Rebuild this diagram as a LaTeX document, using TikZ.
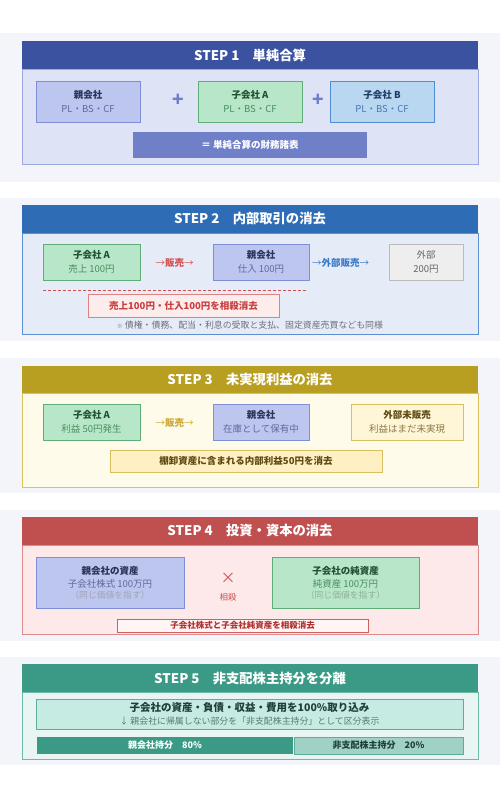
\documentclass[tikz,border=0pt]{standalone}
\usepackage{fontspec}
\setmainfont{Noto Sans CJK JP}
\usepackage{tikz}
\usetikzlibrary{calc}

\definecolor{bandgray}{HTML}{F3F5FA}
\definecolor{hOne}{HTML}{3B52A0}
\definecolor{bOne}{HTML}{DEE3F5}
\definecolor{lOne}{HTML}{9AA8E0}
\definecolor{hTwo}{HTML}{2E6DB5}
\definecolor{bTwo}{HTML}{E6ECF7}
\definecolor{lTwo}{HTML}{5B8FD2}
\definecolor{hThree}{HTML}{B89F22}
\definecolor{bThree}{HTML}{FFFBEA}
\definecolor{lThree}{HTML}{D9C35A}
\definecolor{hFour}{HTML}{C05050}
\definecolor{bFour}{HTML}{FDE9E9}
\definecolor{lFour}{HTML}{DD8A8A}
\definecolor{hFive}{HTML}{3A9A85}
\definecolor{bFive}{HTML}{E8F5F2}
\definecolor{lFive}{HTML}{6CBAA8}
\definecolor{parfill}{HTML}{BCC6EE}
\definecolor{parline}{HTML}{7E8FD8}
\definecolor{partext}{HTML}{2A3258}
\definecolor{parsub}{HTML}{5E6A9E}
\definecolor{subfill}{HTML}{B8E6C8}
\definecolor{subline}{HTML}{5FAE78}
\definecolor{subtext}{HTML}{1F5233}
\definecolor{subsub}{HTML}{4A8F62}
\definecolor{bfill}{HTML}{B9D7F1}
\definecolor{bline}{HTML}{4F8ED0}
\definecolor{btext}{HTML}{1F3C66}
\definecolor{bsub}{HTML}{4A78B2}
\definecolor{sumfill}{HTML}{6F7FC8}
\definecolor{plusblue}{HTML}{7080C8}
\definecolor{sellred}{HTML}{D05050}
\definecolor{extblue}{HTML}{3A7AC8}
\definecolor{extfill}{HTML}{EEEEEE}
\definecolor{extline}{HTML}{BBBBBB}
\definecolor{exttext}{HTML}{666666}
\definecolor{redfill}{HTML}{FDECEC}
\definecolor{redline}{HTML}{E08080}
\definecolor{redtext}{HTML}{C84040}
\definecolor{notegray}{HTML}{6A6F7A}
\definecolor{goldtext}{HTML}{C8A830}
\definecolor{ylwfill}{HTML}{FFF6D8}
\definecolor{ylwbar}{HTML}{FFF0C4}
\definecolor{ylwline}{HTML}{D8C060}
\definecolor{browntext}{HTML}{5E4A12}
\definecolor{brownsub}{HTML}{8A7A44}
\definecolor{paregray}{HTML}{A0A4B4}
\definecolor{grngray}{HTML}{8FB09C}
\definecolor{elimfill}{HTML}{FFF5F5}
\definecolor{elimline}{HTML}{D06060}
\definecolor{elimtext}{HTML}{B03030}
\definecolor{mintfill}{HTML}{C6EBE2}
\definecolor{mintline}{HTML}{5AAE9A}
\definecolor{minttext}{HTML}{1F3F38}
\definecolor{mintsub}{HTML}{5A7A72}
\definecolor{ncifill}{HTML}{9FD1C6}

\tikzset{
  hdr/.style={minimum width=456, minimum height=28, inner sep=0pt, text=white,
    font=\fontsize{13.3}{15}\selectfont\bfseries},
  stepbody/.style={line width=0.8pt},
  box/.style={draw, line width=0.8pt, inner sep=0pt, align=center,
    font=\fontsize{9.5}{14}\selectfont},
  flowlbl/.style={inner sep=0pt, font=\fontsize{9.5}{11}\selectfont},
  bar/.style={inner sep=0pt, font=\fontsize{9.5}{11}\selectfont\bfseries},
}

\begin{document}
\begin{tikzpicture}[x=1pt,y=-1pt]
  \useasboundingbox[fill=white] (0,0) rectangle (500,800);
  \foreach \ya/\yb in {33/182,198/341,358/493,510/641,657/765}
    \fill[bandgray] (0,\ya) rectangle (500,\yb);

  \draw[stepbody,fill=bOne,draw=lOne] (22,69) rectangle (478,164);
  \node[hdr,fill=hOne] (h1) at (250,55) {STEP 1\quad 単純合算};
  \node[box,fill=parfill,draw=parline,minimum width=104,minimum height=41] (s1par) at (88,101.5)
    {\textcolor{partext}{\bfseries 親会社}\\\textcolor{parsub}{PL・BS・CF}};
  \node[box,fill=subfill,draw=subline,minimum width=104,minimum height=41] (s1suba) at (250,101.5)
    {\textcolor{subtext}{\bfseries 子会社 A}\\\textcolor{subsub}{PL・BS・CF}};
  \node[box,fill=bfill,draw=bline,minimum width=104,minimum height=41] (s1subb) at (382,101.5)
    {\textcolor{btext}{\bfseries 子会社 B}\\\textcolor{bsub}{PL・BS・CF}};
  \node[text=plusblue,font=\fontsize{19}{19}\selectfont\bfseries] (plus1) at (178,100) {+};
  \node[text=plusblue,font=\fontsize{19}{19}\selectfont\bfseries] (plus2) at (318,100) {+};
  \node[bar,fill=sumfill,text=white,minimum width=234,minimum height=26] (s1sum) at (250,145)
    {＝ 単純合算の財務諸表};

  \draw[stepbody,fill=bTwo,draw=lTwo] (22,233) rectangle (478,334);
  \node[hdr,fill=hTwo] (h2) at (250,219) {STEP 2\quad 内部取引の消去};
  \node[box,fill=subfill,draw=subline,minimum width=97,minimum height=36] (s2suba) at (91.5,262)
    {\textcolor{subtext}{\bfseries 子会社 A}\\\textcolor{subsub}{売上 100円}};
  \node[flowlbl,text=sellred] (s2sell) at (174.5,263) {→\textbf{販売}→};
  \node[box,fill=parfill,draw=parline,minimum width=96,minimum height=36] (s2par) at (261,262)
    {\textcolor{partext}{\bfseries 親会社}\\\textcolor{parsub}{仕入 100円}};
  \node[flowlbl,text=extblue] (s2ext) at (340.5,263) {→\textbf{外部販売}→};
  \node[box,fill=extfill,draw=extline,minimum width=74,minimum height=36,text=exttext] (s2out) at (426,262)
    {外部\\200円};
  \draw[sellred,line width=0.8pt,dash pattern=on 3pt off 2pt] (43,290) -- (307,290);
  \node[bar,fill=redfill,draw=redline,line width=0.8pt,text=redtext,minimum width=191,minimum height=23] (s2elim) at (183.5,305.5)
    {売上100円・仕入100円を相殺消去};
  \node[inner sep=0pt,text=notegray,font=\fontsize{8.9}{10}\selectfont] (s2note) at (250,325.5)
    {{\fontsize{6}{6}\selectfont ※} 債権・債務、配当・利息の受取と支払、固定資産売買なども同様};

  \draw[stepbody,fill=bThree,draw=lThree] (22,393) rectangle (478,487);
  \node[hdr,fill=hThree,minimum height=27] (h3) at (250,379.5) {STEP 3\quad 未実現利益の消去};
  \node[box,fill=subfill,draw=subline,minimum width=97,minimum height=36] (s3suba) at (91.5,422)
    {\textcolor{subtext}{\bfseries 子会社 A}\\\textcolor{subsub}{利益 50円発生}};
  \node[flowlbl,text=goldtext] (s3sell) at (174.5,423) {→\textbf{販売}→};
  \node[box,fill=parfill,draw=parline,minimum width=96,minimum height=36] (s3par) at (261,422)
    {\textcolor{partext}{\bfseries 親会社}\\\textcolor{parsub}{在庫として保有中}};
  \node[box,fill=ylwfill,draw=ylwline,minimum width=112,minimum height=36] (s3out) at (407,422)
    {\textcolor{browntext}{\bfseries 外部未販売}\\\textcolor{brownsub}{利益はまだ未実現}};
  \node[bar,fill=ylwbar,draw=ylwline,line width=0.8pt,text=browntext,minimum width=272,minimum height=22] (s3elim) at (246,461)
    {棚卸資産に含まれる内部利益50円を消去};

  \draw[stepbody,fill=bFour,draw=lFour] (22,545) rectangle (478,634);
  \node[hdr,fill=hFour] (h4) at (250,531) {STEP 4\quad 投資・資本の消去};
  \node[box,fill=parfill,draw=parline,minimum width=148,minimum height=51] (s4par) at (110,582.5)
    {\textcolor{partext}{\bfseries 親会社の資産}\\[-1pt]\textcolor{parsub}{子会社株式 100万円}\\[-3pt]
     \textcolor{paregray}{\fontsize{8.8}{10}\selectfont（同じ価値を指す）}};
  \node[text=sellred,inner sep=0pt,font=\fontsize{15}{15}\selectfont] (s4x) at (228,578) {×};
  \node[text=sellred,inner sep=0pt,font=\fontsize{8.5}{10}\selectfont] (s4off) at (228,597) {相殺};
  \node[box,fill=subfill,draw=subline,minimum width=147,minimum height=51] (s4sub) at (345.5,582.5)
    {\textcolor{subtext}{\bfseries 子会社の純資産}\\[-1pt]\textcolor{subsub}{純資産 100万円}\\[-3pt]
     \textcolor{grngray}{\fontsize{8.8}{10}\selectfont（同じ価値を指す）}};
  \node[bar,fill=elimfill,draw=elimline,line width=0.8pt,text=elimtext,minimum width=251,minimum height=13,
    font=\fontsize{8.5}{10}\selectfont\bfseries] (s4elim) at (242.5,625.5)
    {子会社株式と子会社純資産を相殺消去};

  \draw[stepbody,fill=bFive,draw=lFive] (22,692) rectangle (478,759);
  \node[hdr,fill=hFive] (h5) at (250,678) {STEP 5\quad 非支配株主持分を分離};
  \node[box,fill=mintfill,draw=mintline,minimum width=427,minimum height=30] (s5all) at (249.5,714)
    {\textcolor{minttext}{\bfseries\fontsize{10.5}{13}\selectfont 子会社の資産・負債・収益・費用を100\%取り込み}\\[-1pt]
     \textcolor{mintsub}{\fontsize{8.9}{10}\selectfont ↓ 親会社に帰属しない部分を「非支配株主持分」として区分表示}};
  \node[bar,fill=hFive,text=white,minimum width=256,minimum height=17,
    font=\fontsize{9}{10}\selectfont\bfseries] (s5par) at (165,745.5) {親会社持分\quad 80\%};
  \node[bar,fill=ncifill,draw=mintline,line width=0.8pt,text=minttext,minimum width=169,minimum height=17,
    font=\fontsize{9}{10}\selectfont\bfseries] (s5nci) at (378.5,745.5) {非支配株主持分\quad 20\%};
\end{tikzpicture}
\end{document}
